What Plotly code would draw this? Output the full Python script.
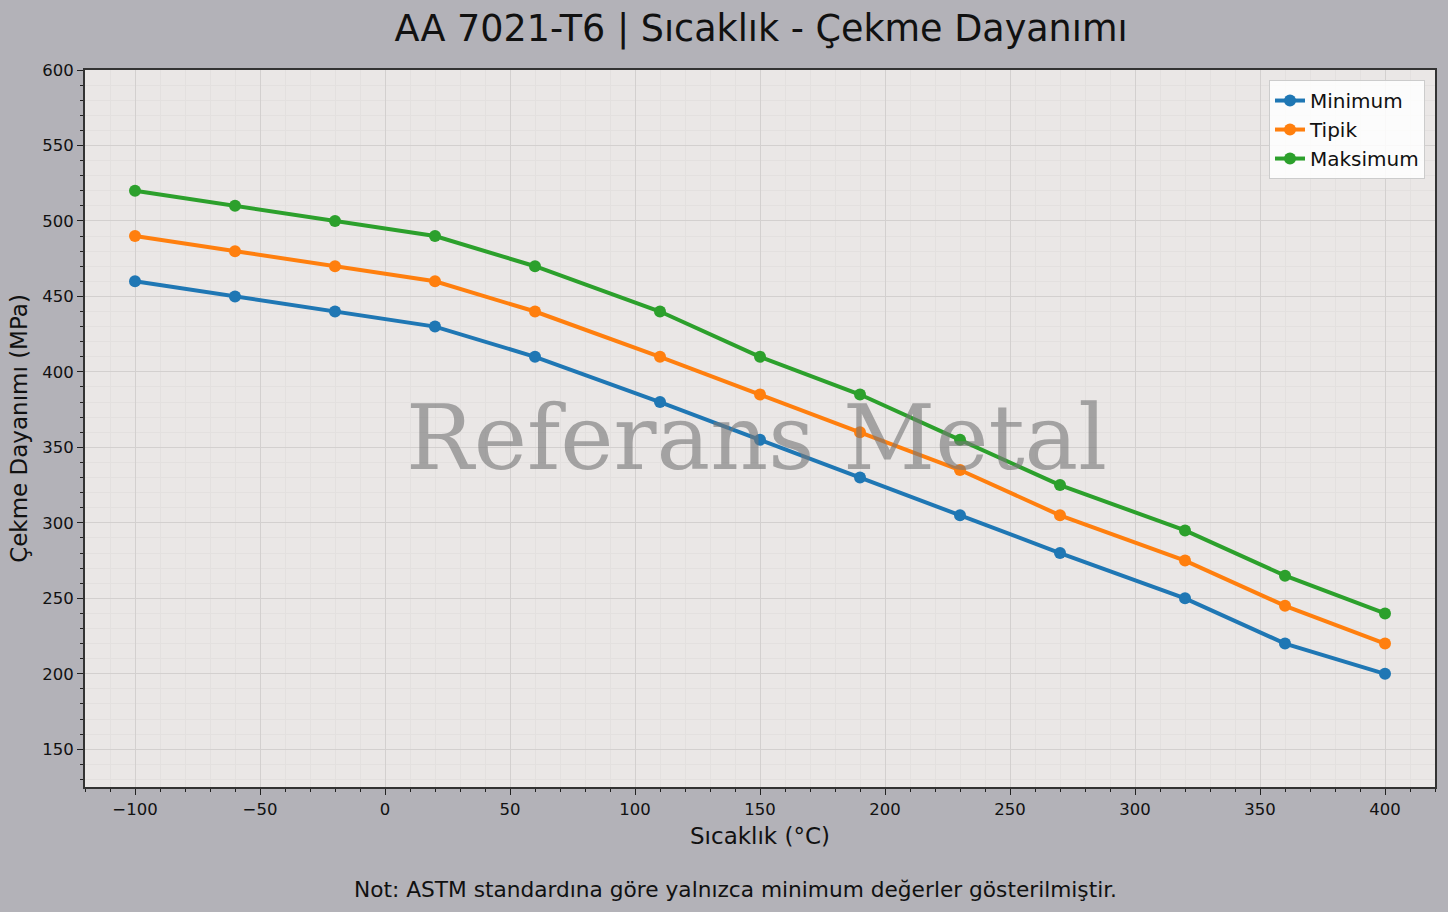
import plotly.graph_objects as go

# Sıcaklık noktaları (°C) ve çekme dayanımı değerleri (MPa)
sicaklik = [-100, -60, -20, 20, 60, 110, 150, 190, 230, 270, 320, 360, 400]
minimum = [460, 450, 440, 430, 410, 380, 355, 330, 305, 280, 250, 220, 200]
tipik = [490, 480, 470, 460, 440, 410, 385, 360, 335, 305, 275, 245, 220]
maksimum = [520, 510, 500, 490, 470, 440, 410, 385, 355, 325, 295, 265, 240]

seriler = ["Minimum", "Tipik", "Maksimum"]
renkler = ["#1f77b4", "#ff7f0e", "#2ca02c"]


def do_plot():
    fig = go.Figure()

    for name, values, color in zip(seriler, [minimum, tipik, maksimum], renkler):
        fig.add_scatter(x=sicaklik, y=values, name=name, mode="lines+markers",
                        line=dict(color=color, width=4),
                        marker=dict(color=color, size=12))

    grid_major = "#d3d0cf"
    grid_minor = "#e3e0df"
    axis_common = dict(
        showline=True, linecolor="#333333", linewidth=2, mirror=True,
        ticks="outside", ticklen=6, tickwidth=1.3, tickcolor="#222222",
        showgrid=True, gridcolor=grid_major, gridwidth=1.2,
        zeroline=False, tickfont=dict(size=16.5, color="#111111"),
        title_font=dict(size=23, color="#111111"),
    )

    fig.update_xaxes(range=[-120, 420], dtick=50, title_text="Sıcaklık (°C)",
                     title_standoff=10,
                     minor=dict(dtick=10, ticks="outside", ticklen=3, tickcolor="#222222",
                                showgrid=True, gridcolor=grid_minor, gridwidth=0.6),
                     **axis_common)
    fig.update_yaxes(range=[125, 600], dtick=50, title_text="Çekme Dayanımı (MPa)",
                     title_standoff=8,
                     minor=dict(dtick=10, ticks="outside", ticklen=3, tickcolor="#222222",
                                showgrid=True, gridcolor=grid_minor, gridwidth=0.6),
                     **axis_common)

    # Filigran
    fig.add_annotation(text="Referans Metal", x=0.4975, y=0.487, xref="paper", yref="paper",
                       showarrow=False,
                       font=dict(family="DejaVu Serif", size=90, color="rgba(120,120,120,0.62)"))

    # Not
    fig.add_annotation(text="Not: ASTM standardına göre yalnızca minimum değerler gösterilmiştir.",
                       x=0.482, y=-0.143, xref="paper", yref="paper", showarrow=False,
                       yanchor="middle", font=dict(size=21.7, color="#111111"))

    fig.update_layout(
        width=1448, height=912,
        title=dict(text="AA 7021-T6 | Sıcaklık - Çekme Dayanımı", x=0.5256, xanchor="center",
                   y=0.969, yanchor="middle", font=dict(size=36.5, color="#111111")),
        font=dict(family="DejaVu Sans", color="#111111"),
        paper_bgcolor="#b3b2b8", plot_bgcolor="#eae7e6",
        margin=dict(l=85, r=11, t=70, b=125),
        legend=dict(x=0.9926, y=0.986, xanchor="right", yanchor="top",
                    bgcolor="rgba(255,255,255,0.85)", bordercolor="#cccccc", borderwidth=1,
                    font=dict(size=20, color="#111111")),
    )

    # tarayıcının varsayılan sayfa kenar boşluğunu kaldır
    fig.write_html("out.html", config={"displayModeBar": False},
                   post_script="document.body.style.margin = '0';")


if __name__ == "__main__":
    do_plot()
